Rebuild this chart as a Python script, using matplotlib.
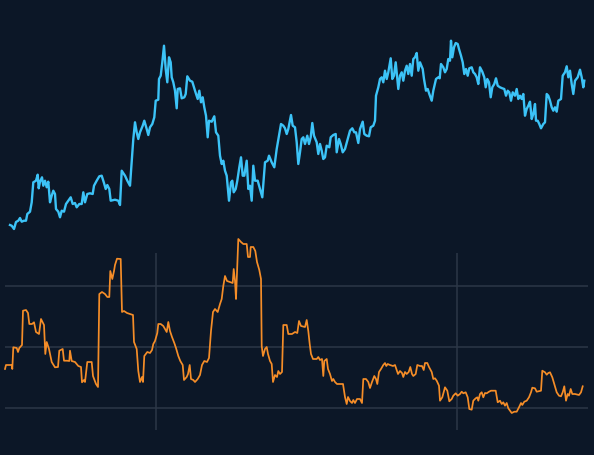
import matplotlib
matplotlib.use("Agg")
from matplotlib import pyplot as plt
import numpy as np

# price series (upper pane): day, value
price_day = [10, 11.7, 14, 16, 18.3, 20, 21.7, 24, 26, 27.3, 30, 31.7, 33.3, 36, 37.7, 38.7, 40, 42, 43.3, 45,
             46.7, 48.3, 50, 51.7, 53.3, 55, 56, 58.3, 60, 61.7, 64, 66, 68.3, 70.7, 72.7, 75, 76.7, 79.3, 81.7,
             83.3, 85, 87.3, 90, 92.7, 94, 96.7, 99.3, 101.7, 104, 105.7, 107.3, 109.3, 110.7, 115, 118.3, 120,
             121.7, 125, 127.3, 130, 131.7, 133.3, 135, 136.7, 138.3, 140, 142.7, 144.3, 146.7, 148.3, 150, 152.3,
             154.3, 155.7, 158.3, 159, 160.7, 162.3, 164, 165.7, 167.3, 169, 170.7, 171.7, 173.3, 175, 176.7,
             177.7, 180, 181.7, 184.3, 185.7, 187.3, 190, 192.3, 195, 197.7, 199.3, 201, 202.7, 204.3, 206, 207.7,
             209, 211.7, 214.3, 216, 218.3, 220, 221.7, 223.3, 225, 226.7, 229, 231, 232.3, 233.7, 235.7, 237.3,
             239.3, 241, 242.7, 244.3, 246.7, 248.3, 250, 251.7, 253.3, 255, 257.7, 260, 262.3, 265, 267.7, 269,
             271.7, 274.3, 276.7, 279, 281, 283.3, 285, 286.7, 288.3, 291, 292.7, 295, 296.7, 298.3, 300, 301.7,
             303.3, 305, 307.3, 309, 310.7, 312.3, 314, 316.7, 318.3, 320, 321.7, 323.3, 325, 326.7, 329.3, 330.7,
             333.3, 335.7, 336.7, 339, 340.7, 342.7, 345, 347.3, 350, 352.3, 354.3, 356, 358.3, 360, 362.7, 364.3,
             366.7, 369, 370.7, 373.3, 375, 376, 378.3, 380, 381.7, 383.3, 385, 386.7, 388.3, 390.7, 392.3, 394,
             395.7, 397.3, 398.3, 400, 401.7, 403.3, 405, 406.7, 408.3, 410, 411.7, 413.3, 415, 416.7, 418.3, 420,
             422.7, 424, 426, 427.7, 429.3, 431.7, 433.3, 436, 438.3, 439.7, 441, 443.3, 445, 446.7, 448.3, 450,
             451, 452.3, 454, 455.7, 457.7, 459, 461, 462.7, 464.3, 466, 467.7, 469.3, 471.7, 473.3, 475, 476.7,
             478.3, 480, 482.3, 484.3, 485.7, 487.3, 489, 490.7, 492.3, 494.3, 496, 497.7, 500, 502.3, 504.3, 506,
             507.7, 509.3, 511, 512.7, 515, 516.7, 518.3, 520, 521.7, 523.3, 525, 526.7, 528.3, 530, 531.7, 533.3,
             535, 536, 537.7, 539.3, 541, 543.3, 545, 546.7, 548.3, 550, 551.7, 553.3, 555, 556.7, 558.3, 561,
             562.7, 565, 566.7, 568.3, 570, 571.7, 573.3, 575, 577.7, 580, 581.7, 583.3, 584.3]
price = [24, 23.3, 20, 27, 28.3, 31, 27.3, 28.3, 28.3, 35, 37.3, 46.7, 66.7, 68.3, 74.3, 60.7, 67.3, 71.7, 63.3, 68.3,
         61.7, 67.3, 46.7, 53.3, 58.3, 55, 40, 37.3, 31.7, 38.3, 37.3, 45, 48.3, 51.7, 45, 46, 41.7, 45, 45,
         56.7, 46.7, 55, 55.7, 55, 63.3, 68.3, 72.7, 73.3, 66, 60, 64, 60, 48.3, 49.3, 48.3, 44,
         78.3, 73.3, 68.3, 63.3, 86.7, 110, 126.7, 116.7, 110, 116.7, 123.3, 128.3, 120, 114, 121.7, 125,
         131.7, 148.3, 149.3, 170, 173.3, 186.7, 203.3, 180, 166.7, 191.7, 186.7, 171.7, 166.7, 158.3, 140.7,
         160, 160.7, 150.7, 151.7, 155, 172.7, 168.3, 167.3, 158.3, 150, 158.3, 146.7, 151.7, 141.7, 133.3, 111.7,
         128.3, 127.3, 132.7, 116.7, 113.3, 93.3, 85, 88.3, 78.3, 73.3, 48.3, 66.7, 68.3, 56.7, 60, 68.3,
         81.7, 91.7, 73.3, 73.3, 88.3, 60, 63.3, 48.3, 83.3, 68.3, 68.3, 60, 51.7, 86.7, 88.3, 93.3,
         86.7, 81.7, 100, 113.3, 125, 123.3, 120.7, 115, 120, 134, 123.3, 121.7, 106.7, 85, 96.7, 110,
         111.7, 105, 113.3, 105, 111.7, 126, 113.3, 106.7, 95, 105, 98.3, 90, 91.7, 103.3, 101.7, 111.7,
         114, 115, 96.7, 110, 105, 96.7, 100, 108.3, 118.3, 120.7, 116.7, 116.7, 106, 120, 127.3, 115,
         113.3, 112.7, 121.7, 123.3, 128.3, 153.3, 161.7, 170, 171.7, 166.7, 178.3, 170, 176.7, 190.7, 170, 173.3,
         186.7, 170.7, 160, 173.3, 176.7, 168.3, 178.3, 183.3, 175, 185, 173.3, 190, 191.7, 196, 178.3, 186.7,
         180, 170, 158.3, 160, 155, 148.3, 158.3, 170, 171.7, 170.7, 185, 181.7, 176.7, 180, 190, 188.3,
         208.3, 191.7, 201.7, 206, 205, 200, 193.3, 186.7, 175, 180, 173.3, 180.7, 181.7, 176.7, 175, 171.7,
         165, 181.7, 177.3, 171.7, 161.7, 170, 166.7, 151.7, 161.7, 165, 170.7, 163.3, 161.7, 160.7, 160, 153.3,
         158.3, 156.7, 148.3, 156.7, 153.3, 160, 150, 153.3, 150, 155, 133.3, 140, 143.3, 147.3, 130, 135,
         145, 128.3, 128.3, 125, 120.7, 125, 126.7, 155, 153.3, 148.3, 141.7, 138.3, 141.7, 137.3, 148.3, 150,
         173.3, 176.7, 182.7, 171.7, 178.3, 165, 155, 168.3, 171.7, 179.3, 171.7, 161.7, 168.3]

# oscillator series (lower pane): day, value
osc_day = [5, 6, 11.7, 12.3, 13.3, 16.7, 18, 19.3, 22, 23, 26, 28, 29.3, 32, 34, 36, 39, 41, 44, 45.3, 46.7, 49,
           51.7, 55, 58, 59.3, 62.7, 64, 67, 69.3, 70, 71.7, 75, 78.3, 81, 82, 84, 85, 87.3, 91.7, 93, 96, 98,
           99.3, 102, 105, 107.3, 109.3, 110.3, 112.3, 114, 115, 117, 120.7, 122, 124, 127, 133, 134, 136.7,
           138.3, 140, 142, 143, 144.3, 147.3, 150, 152, 153.3, 155, 157.3, 158.3, 160.7, 163.3, 165, 166.7,
           168.3, 170, 172, 174.3, 176, 178.3, 180.3, 182.7, 184, 186.7, 188, 189.7, 191, 193.3, 195, 197.7, 200,
           202, 204.3, 207, 209, 211, 213, 215, 217.7, 220, 221.7, 223.3, 225, 227, 230, 232.7, 233.7, 235, 236,
           237.3, 238.3, 241, 243.3, 246.7, 248, 250, 250.7, 253.3, 255.3, 257, 259.3, 261, 261.7, 263, 265,
           266.7, 268, 270, 271.7, 273, 275, 277, 278.3, 280, 282, 283.3, 286.7, 288.3, 292, 295, 297.3, 299,
           301, 305, 306.7, 308.3, 309.7, 311, 313, 316.7, 318.3, 320, 322, 323.3, 324.3, 326.7, 328, 330, 332,
           333.3, 335, 337, 340, 343, 345, 346.7, 348, 350, 352, 353.3, 355, 357, 360, 362, 363.3, 366, 368.3,
           370, 372, 374.3, 376, 377.3, 379, 381, 383.3, 385, 386.3, 387.7, 390, 393, 395, 398, 400, 402, 403.3,
           405, 406.7, 408.7, 410.3, 412, 413.3, 415.7, 417.3, 420, 422, 423.7, 425, 427.3, 429, 431.7, 433.3,
           435, 436.7, 439, 440, 442.3, 445, 447.3, 449.3, 451.7, 453.3, 455.7, 457.7, 460, 461.7, 463.3, 465.7,
           467.7, 469.3, 471.7, 473.3, 475.7, 477.3, 478.3, 480, 481.7, 483.3, 485, 486.7, 489, 491, 493.3,
           495.7, 497.7, 500, 501.7, 503.3, 505, 506.7, 508.3, 510, 511.7, 514.3, 516.7, 519, 521, 522.3, 524.3,
           526.7, 529, 531, 532.3, 535, 536.7, 541, 542.3, 545, 546.7, 548.3, 550, 552.3, 554.3, 556.7, 559,
           561, 562.7, 564.3, 566, 567.7, 569, 570.7, 572.3, 575, 579, 581, 582.7]
osc = [61, 65, 65, 61, 82.7, 82, 78, 82, 85, 119.3, 120, 117, 106, 106, 107.7, 98, 96, 111, 105, 76, 88, 81,
       68, 62.7, 63, 79.3, 81, 69.3, 69.3, 69, 79.3, 69, 68, 64, 63, 47.7, 50, 48, 68, 68, 54, 46, 43,
       136, 138, 136, 133, 133, 159, 151, 159, 165, 171.3, 171, 118, 119, 117, 115, 88, 81,
       59, 48, 53, 48, 74, 78, 77, 80, 86, 89, 97, 106, 106, 104, 101, 98,
       108, 99, 93, 87, 82, 74, 69, 65, 50, 53, 56, 65, 51, 50, 48, 51, 55,
       65, 69, 68, 72, 99, 118, 121, 118, 126, 131, 144, 154, 149, 148, 147, 161, 149, 131,
       164, 191, 188, 186, 186, 173, 173, 183, 183, 179, 168, 160, 151, 84, 74, 81,
       83, 76, 69, 66, 48, 55, 53, 59, 56, 58, 105, 105, 96, 96, 98, 97, 109,
       104, 103, 110, 99, 86, 76, 71, 71, 73, 70, 71, 54, 69, 71, 61, 56, 49,
       51, 48, 46, 46, 46, 33, 26, 33, 29, 27, 30, 27, 31, 31, 27, 51, 51, 48,
       42, 48, 54, 51, 46, 58, 61, 65, 67, 64, 66, 65, 64, 65, 56, 59, 57, 53,
       58, 56, 58, 63, 56, 54, 56, 65, 64, 64, 60, 67, 67, 63, 58, 51,
       51.7, 49.3, 44.3, 29.3, 32.7, 42.7, 39.3, 28.7, 31, 34.3, 36.7, 34.3, 36, 38.3, 36.7, 37.7,
       32.7, 21, 20.3, 29.3, 31.7, 32.7, 29.3, 36, 37.7, 32.7, 37, 36.7, 38.3, 39.3, 39.3,
       39.3, 27.7, 29.3, 26, 27.7, 24.3, 27, 21.7, 19.3, 17, 18.3, 18.3, 22.7, 27, 25, 28.3,
       29.3, 32.7, 37.7, 42.3, 41.7, 38.3, 39.3, 59.3, 57.7, 55.3, 57, 57.7, 52.7, 46, 37.7, 34.3,
       33.7, 37.7, 43.7, 29.3, 36, 34.3, 41, 36, 36, 35, 37.7, 43.7]

osc_levels = [22, 83, 144]
osc_marks = [156, 457]

bg = '#0c1727'
W, H = 594, 456

fig = plt.figure(figsize=(W / 100, H / 100), dpi=100)
fig.patch.set_facecolor(bg)

ax1 = fig.add_axes([5 / W, (H - 254) / H, 583 / W, 254 / H])
ax2 = fig.add_axes([5 / W, 25 / H, 583 / W, 177 / H])

for ax in (ax1, ax2):
    ax.set_facecolor('none')
    for s in ax.spines.values():
        s.set_visible(False)
    ax.set_xlim(5, 588)
    ax.tick_params(length=0, labelbottom=False, labelleft=False)

ax1.set_xticks([])
ax1.set_yticks([])
ax1.set_ylim(-4, 250)
ax1.plot(price_day, price, color='#3cc3f7', lw=1.7, solid_joinstyle='round')

ax2.set_ylim(0, 177)
ax2.set_yticks(osc_levels)
ax2.set_xticks(osc_marks)
ax2.grid(True, color='#2c3747', lw=1.1)
ax2.set_axisbelow(True)
ax2.plot(osc_day, osc, color='#f58d28', lw=1.25, clip_on=False, solid_joinstyle='round')

fig.savefig('out.png', dpi=100, facecolor=bg)
